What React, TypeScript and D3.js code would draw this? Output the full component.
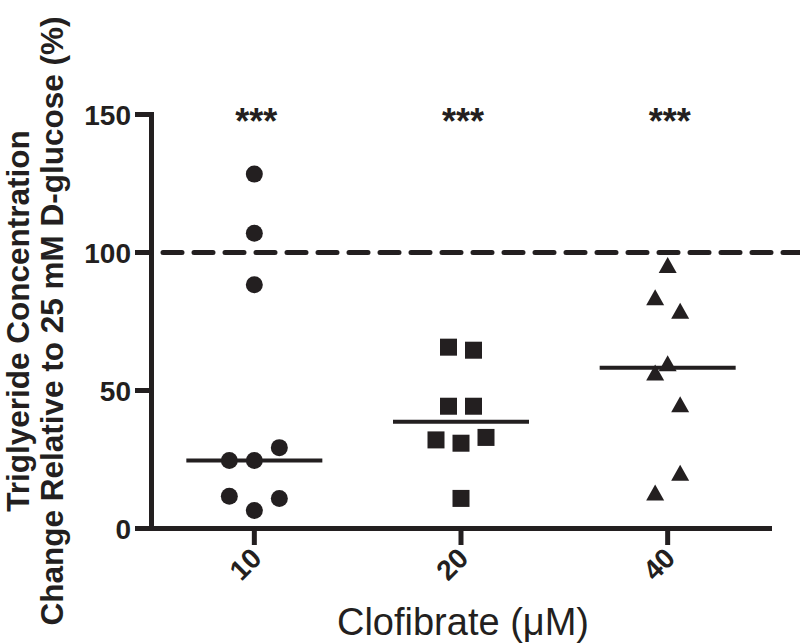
import React from 'react';
import * as d3 from 'd3';

// Clofibrate doses (uM) on the x axis
const doses = ['10', '20', '40'];

// triglyceride change (% of 25 mM D-glucose)
const tg10 = [128.4, 107.0, 88.3, 29.3, 24.6, 24.6, 11.7, 10.9, 6.5];
const tg20 = [65.7, 64.6, 44.3, 44.3, 32.1, 30.9, 33.0, 10.9];
const tg40 = [95.5, 83.8, 78.9, 59.9, 56.5, 45.0, 20.2, 13.0];

// which scatter column each point sits in (GraphPad-style spread)
const col10 = [0, 0, 0, 1, -1, 0, -1, 1, 0];
const col20 = [-0.5, 0.5, -0.5, 0.5, -1, 0, 1, 0];
const col40 = [0, -0.5, 0.5, 0, -0.5, 0.5, 0.5, -0.5];

const yTicks = [0, 50, 100, 150];
const reference = 100;
const stars = ['***', '***', '***'];

const W = 800;
const H = 644;
const FONT = 'Liberation Sans, Arial, Helvetica, sans-serif';

export default function App() {
  const x = d3.scalePoint<string>().domain(doses).range([151, 771]).padding(0.5);
  const y = d3.scaleLinear().domain([0, 150]).range([528.5, 114.5]);

  const colW = 25;
  const groups = [
    { dose: '10', vals: tg10, cols: col10, shape: 'circle' },
    { dose: '20', vals: tg20, cols: col20, shape: 'square' },
    { dose: '40', vals: tg40, cols: col40, shape: 'triangle' },
  ];

  const marker = (shape: string, cx: number, cy: number, key: number) => {
    if (shape === 'circle') return <circle key={key} cx={cx} cy={cy} r={8.5} fill="#231f20" />;
    if (shape === 'square') return <rect key={key} x={cx - 8.5} y={cy - 8.5} width={17} height={17} fill="#231f20" />;
    const s = 18, h = 16;
    return (
      <path key={key} d={`M${cx},${cy - h / 2}L${cx + s / 2},${cy + h / 2}L${cx - s / 2},${cy + h / 2}Z`} fill="#231f20" />
    );
  };

  return (
    <div style={{ position: 'fixed', left: 0, top: 0 }}>
      <svg width={W} height={H} style={{ display: 'block', background: '#fff' }} fontFamily={FONT}>
        {/* y axis title */}
        <g transform="translate(0,321) rotate(-90)" fontWeight="bold" fontSize={31.5} fill="#231f20" textAnchor="middle">
          <text x={0} y={29}>Triglyeride Concentration</text>
          <text x={0} y={63}>Change Relative to 25 mM D-glucose (%)</text>
        </g>

        {/* y axis */}
        <line x1={151.5} x2={151.5} y1={y(150) - 2.5} y2={y(0) + 2.5} stroke="#231f20" strokeWidth={5} />
        {yTicks.map(t => (
          <g key={t}>
            <line x1={135} x2={151.5} y1={y(t)} y2={y(t)} stroke="#231f20" strokeWidth={5} />
            <text x={131} y={y(t)} dy="0.36em" textAnchor="end" fontWeight="bold" fontSize={28} fill="#231f20">{t}</text>
          </g>
        ))}

        {/* x axis */}
        <line x1={149} x2={772} y1={y(0)} y2={y(0)} stroke="#231f20" strokeWidth={5} />
        {doses.map(d => (
          <g key={d}>
            <line x1={x(d)} x2={x(d)} y1={y(0)} y2={545} stroke="#231f20" strokeWidth={5} />
            <text transform={`translate(${(x(d) as number) + 9},${560}) rotate(-45)`} textAnchor="end"
              fontWeight="bold" fontSize={28} fill="#231f20">{d}</text>
          </g>
        ))}
        <text x={463} y={635} textAnchor="middle" fontSize={38} fill="#231f20">Clofibrate (μM)</text>

        {/* 100% reference */}
        <line x1={163} x2={800} y1={y(reference)} y2={y(reference)} stroke="#231f20" strokeWidth={5}
          strokeDasharray="19 12" strokeLinecap="round" />

        {/* points and medians */}
        {groups.map(g => {
          const cx = x(g.dose) as number;
          const med = d3.median(g.vals) as number;
          return (
            <g key={g.dose}>
              <line x1={cx - 68} x2={cx + 68} y1={y(med)} y2={y(med)} stroke="#231f20" strokeWidth={4} />
              {g.vals.map((v, i) => marker(g.shape, cx + g.cols[i] * colW, y(v), i))}
            </g>
          );
        })}

        {/* significance */}
        {doses.map((d, i) => (
          <text key={d} x={(x(d) as number) + 2} y={134} textAnchor="middle" fontWeight="bold" fontSize={36} fill="#231f20">{stars[i]}</text>
        ))}
      </svg>
    </div>
  );
}
